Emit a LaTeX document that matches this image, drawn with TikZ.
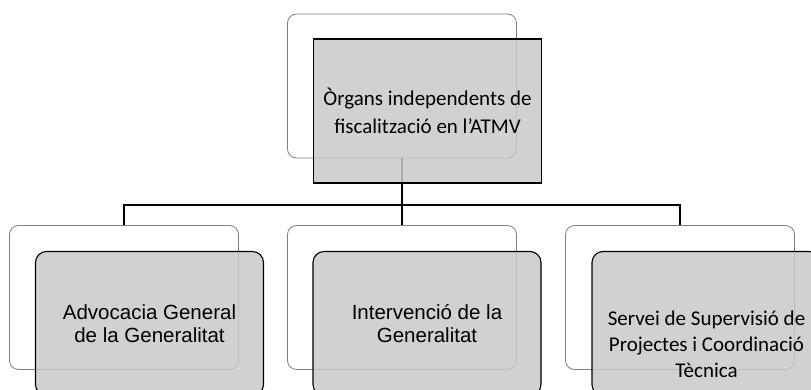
\documentclass[tikz,border=0pt]{standalone}
\usepackage{fontspec}
\newfontfamily\calfont{Carlito}
\newfontfamily\arifont{Liberation Sans}
\begin{document}
\begin{tikzpicture}[x=1pt,y=-1pt,
  backbox/.style={draw=black!50, line width=0.8pt, fill=white, rounded corners=9pt, minimum width=229pt, minimum height=144pt, inner sep=0pt},
  frontbox/.style={draw=black, line width=1.1pt, fill=black!21, fill opacity=0.85, text opacity=1, rounded corners=11pt, minimum width=228pt, minimum height=144pt, inner sep=0pt, align=center},
  topfront/.style={frontbox, rounded corners=0pt},
  conn/.style={draw=black, line width=2.8pt}]
\useasboundingbox (0,0) rectangle (811,390);
\clip (0,0) rectangle (811,390);
% back boxes
\node[backbox] (tb) at (402,86) {};
\node[backbox] (lb) at (124,297.5) {};
\node[backbox] (mb) at (402,297.5) {};
\node[backbox] (rb) at (680,297.5) {};
% connectors
\coordinate (bus) at (402,205);
\draw[conn] (tb.south) -- (mb.north);
\draw[conn] (lb.north) |- (bus) -| (rb.north);
% front boxes
\node[topfront, font=\calfont\fontsize{21}{27.5}\selectfont] (tf) at (427.5,111) {Òrgans independents de\\fiscalització en l’ATMV};
\node[frontbox, font=\arifont\fontsize{20.5}{23}\selectfont] (lf) at (149.5,323.5) {Advocacia General\\de la Generalitat};
\node[frontbox, font=\arifont\fontsize{20.5}{23}\selectfont] (mf) at (427,323.5) {Intervenció de la\\Generalitat};
\node[frontbox] (rf) at (706,323.5) {};
\node[align=center, inner sep=0pt, font=\calfont\fontsize{21}{26}\selectfont] (rt) at (706.5,344) {Servei de Supervisió de\\Projectes i Coordinació\\Tècnica};
\end{tikzpicture}
\end{document}
